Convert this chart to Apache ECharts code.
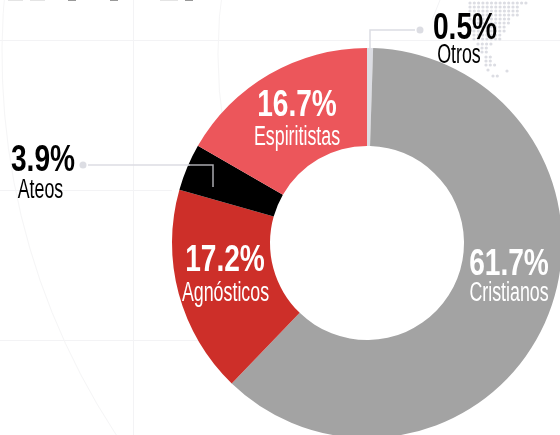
<!DOCTYPE html>
<html>
<head>
<meta charset="utf-8">
<style>
html, body { margin: 0; padding: 0; background: #fff; }
#chart { width: 560px; height: 435px; }
</style>
<script src="https://cdn.jsdelivr.net/npm/echarts@6/dist/echarts.min.js"></script>
</head>
<body>
<div id="chart"></div>
<script>
// orden horario desde arriba
const categories = ['Otros', 'Cristianos', 'Agnósticos', 'Ateos', 'Espiritistas']
const values = [0.5, 61.7, 17.2, 3.9, 16.7]
const colors = ['#dcdde3', '#a3a3a3', '#cd2f29', '#000000', '#ec565b']
const labelColors = ['#000', '#fff', '#fff', '#000', '#fff']

const font = '"Liberation Sans", sans-serif'
const cx = 367
const cy = 243

// etiqueta: [x valor, y valor, x nombre, y nombre]
const labelPos = [
  [465, 29, 459, 56],
  [509, 265, 509, 294],
  [225, 261, 225.5, 294],
  [43, 161, 40.5, 191],
  [297, 106, 297, 138]
]

// mapa de puntos del fondo: [y, x inicial, x final]
const mapRows = [
  [3, 470, 530], [7, 470, 518], [11, 470, 518], [15, 470, 518], [19, 470, 510],
  [23, 474, 510], [27, 474, 506], [31, 474, 506], [35, 474, 502], [39, 474, 502],
  [44, 478, 494], [48, 482, 490], [52, 482, 490], [57, 486, 494], [61, 486, 494],
  [65, 486, 498], [70, 488, 488], [71, 507, 507], [76, 493, 498]
]

function gridLine(x1, y1, x2, y2) {
  return {
    type: 'line',
    silent: true,
    z: -1,
    shape: { x1, y1, x2, y2 },
    style: { stroke: '#f3f3f5', lineWidth: 1 }
  }
}

function bgArc(r, startAngle, endAngle) {
  return {
    type: 'arc',
    silent: true,
    z: -1,
    shape: { cx: 694, cy: 54, r, startAngle, endAngle },
    style: { stroke: '#f5f5f6', lineWidth: 1, fill: null }
  }
}

function leader(points, stroke) {
  return {
    type: 'polyline',
    silent: true,
    z: 10,
    shape: { points },
    style: { stroke, lineWidth: 1.5, fill: null }
  }
}

function dot(x, y, r, z) {
  return {
    type: 'circle',
    silent: true,
    z,
    shape: { cx: x, cy: y, r },
    style: { fill: '#dcdde3' }
  }
}

// restos del titulo cortado arriba
function titleBit(x, w, fill) {
  return {
    type: 'rect',
    silent: true,
    shape: { x, y: 0, width: w, height: 1 },
    style: { fill }
  }
}

// texto condensado, con scaleX porque no hay fuente estrecha
function label(text, x, y, size, bold, scaleX, fill) {
  return {
    type: 'text',
    silent: true,
    z: 20,
    x,
    y,
    scaleX,
    style: {
      text,
      fill,
      fontFamily: font,
      fontSize: size,
      fontWeight: bold ? 'bold' : 'normal',
      textAlign: 'center',
      textVerticalAlign: 'middle'
    }
  }
}

const mapDots = []
mapRows.forEach(function (row) {
  for (let x = row[1]; x <= row[2]; x += 4.3) {
    mapDots.push(dot(x, row[0], 1.6, -1))
  }
})

const labels = []
categories.forEach(function (name, i) {
  const p = labelPos[i]
  labels.push(label(values[i] + '%', p[0], p[1], 37, true, 0.76, labelColors[i]))
  labels.push(label(name, p[2], p[3], 27, false, 0.66, labelColors[i]))
})

const myChart = echarts.init(document.getElementById('chart'))
myChart.setOption({
  animation: false,
  backgroundColor: '#fff',
  graphic: [
    gridLine(0, 40.5, 560, 40.5),
    gridLine(0, 190.5, 172, 190.5),
    gridLine(0, 340.5, 200, 340.5),
    gridLine(133.5, 0, 133.5, 435),
    gridLine(440, 0, 432, 20),
    bgArc(692, Math.PI * 0.8, Math.PI * 1.05),
    bgArc(476, Math.PI * 0.95, Math.PI * 1.05),
    titleBit(8, 15, '#e4e4e4'),
    titleBit(30, 15, '#e4e4e4'),
    titleBit(68, 8, '#999'),
    titleBit(110, 8, '#999'),
    titleBit(160, 18, '#e4e4e4'),
    titleBit(185, 8, '#999'),
    leader([[88, 165], [190, 165]], '#dcdde3'),
    leader([[190, 165], [213, 165], [213, 187]], '#a9a9ae'),
    leader([[415, 30], [370, 30], [370, 60]], '#dcdde3'),
    dot(83, 165, 3.5, 10),
    dot(420, 30, 3.5, 10)
  ].concat(mapDots, labels),
  series: [
    {
      type: 'pie',
      center: [cx, cy],
      radius: [97, 195],
      startAngle: 90,
      clockwise: true,
      silent: true,
      color: colors,
      label: { show: false },
      labelLine: { show: false },
      data: categories.map(function (name, i) {
        return { name: name, value: values[i] }
      })
    }
  ]
})
</script>
</body>
</html>
